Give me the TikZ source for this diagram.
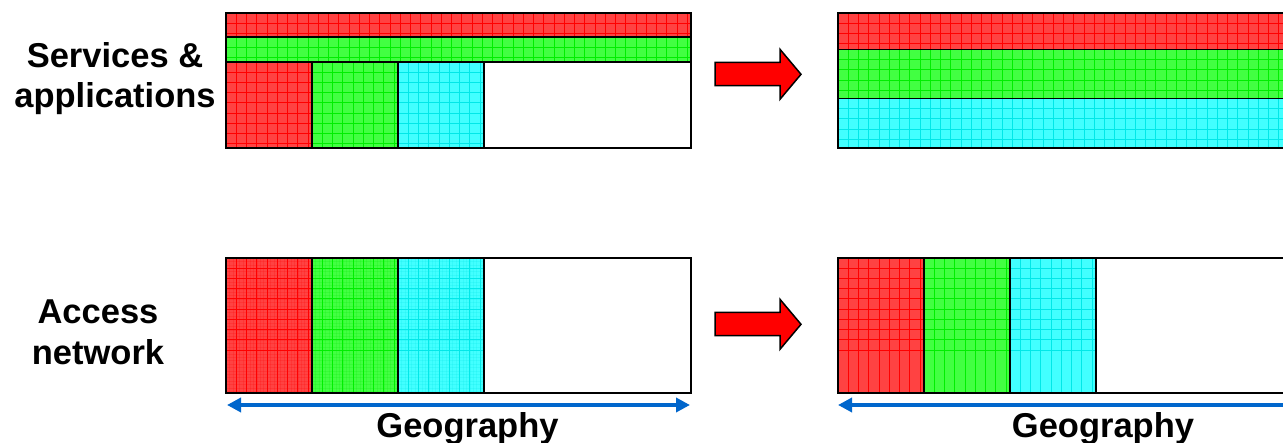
\documentclass[tikz,border=0pt]{standalone}
\usepackage{fontspec}
\setmainfont{Liberation Sans}
\usetikzlibrary{arrows.meta}
\definecolor{rfill}{RGB}{255,66,66}
\definecolor{rline}{RGB}{255,0,0}
\definecolor{gfill}{RGB}{66,255,66}
\definecolor{gline}{RGB}{0,238,0}
\definecolor{cfill}{RGB}{66,255,255}
\definecolor{cline}{RGB}{0,232,232}
\definecolor{geoblue}{RGB}{0,102,204}
\newcommand\gbox[6]{%
  \begin{scope}
    \clip (#1,#2) rectangle (#3,#4);
    \fill[#5] (#1,#2) rectangle (#3,#4);
    \foreach \k in {1,...,46} {\draw[gridline,#6] ({#1+\k*10.25},#2) -- ({#1+\k*10.25},#4);}
    \foreach \k in {1,...,9} {\draw[gridline,#6] (#1,{#2+\k*10.25}) -- (#3,{#2+\k*10.25});}
  \end{scope}}
\newcommand\stipbox[5]{%
  \begin{scope}
    \clip (#1,#2) rectangle (#3,#4);
    \foreach \k in {1,...,30} {\draw[#5,line width=0.5pt,opacity=0.18] ({#1+\k*3.42},#2) -- ({#1+\k*3.42},#4);}
    \foreach \k in {1,...,40} {\draw[#5,line width=0.5pt,opacity=0.18] (#1,{#2+\k*3.42}) -- (#3,{#2+\k*3.42});}
  \end{scope}}
\tikzset{
  gridline/.style={line width=1pt},
  border/.style={draw=black,line width=1.6pt},
  lbl/.style={font=\fontsize{34.5}{40}\selectfont\bfseries,inner sep=0pt,anchor=base},
  bigarrow/.style={fill=red,draw=black,line width=1.5pt,line join=miter},
  geo/.style={draw=geoblue,line width=4pt},
}
\begin{document}
\begin{tikzpicture}[x=1pt,y=-1pt]
\clip (0,0) rectangle (1283,443);
\fill[white] (0,0) rectangle (1283,443);

% ---------- top left ----------
\gbox{226}{13}{691}{37}{rfill}{rline}
\gbox{226}{37}{691}{62}{gfill}{gline}
\gbox{226}{62}{312}{148}{rfill}{rline}
\gbox{312}{62}{398}{148}{gfill}{gline}
\gbox{398}{62}{484}{148}{cfill}{cline}
\draw[border] (226,13) rectangle (691,148);
\draw[border] (226,37) -- (691,37);
\draw[border] (226,62) -- (691,62);
\draw[border] (312,62) -- (312,148);
\draw[border] (398,62) -- (398,148);
\draw[border] (484,62) -- (484,148);

% ---------- top right ----------
\gbox{838}{13}{1295}{49.5}{rfill}{rline}
\gbox{838}{49.5}{1295}{98.5}{gfill}{gline}
\gbox{838}{98.5}{1295}{148}{cfill}{cline}
\draw[border] (838,13) rectangle (1295,148);
\draw[border] (838,49.5) -- (1295,49.5);
\draw[border] (838,98.5) -- (1295,98.5);

% ---------- bottom left ----------
\gbox{226}{258}{312}{393}{rfill}{rline}
\stipbox{226}{258}{312}{393}{rline}
\gbox{312}{258}{398}{393}{gfill}{gline}
\stipbox{312}{258}{398}{393}{gline}
\gbox{398}{258}{484}{393}{cfill}{cline}
\stipbox{398}{258}{484}{393}{cline}
\draw[border] (226,258) rectangle (691,393);
\draw[border] (312,258) -- (312,393);
\draw[border] (398,258) -- (398,393);
\draw[border] (484,258) -- (484,393);

% ---------- bottom right ----------
\gbox{838}{258}{924}{393}{rfill}{rline}
\gbox{924}{258}{1010}{393}{gfill}{gline}
\gbox{1010}{258}{1096}{393}{cfill}{cline}
\draw[border] (838,258) rectangle (1295,393);
\draw[border] (924,258) -- (924,393);
\draw[border] (1010,258) -- (1010,393);
\draw[border] (1096,258) -- (1096,393);

% ---------- big red arrows ----------
\draw[bigarrow] (715,62.3) -- (780,62.3) -- (780,49.3) -- (801,74.3) -- (780,99.3) -- (780,85.7) -- (715,85.7) -- cycle;
\draw[bigarrow] (715,312.3) -- (780,312.3) -- (780,299.3) -- (801,324.3) -- (780,349.3) -- (780,335.7) -- (715,335.7) -- cycle;

% ---------- geography arrows ----------
\coordinate (gl1) at (227,405);
\coordinate (gl2) at (690,405);
\coordinate (gr1) at (838,405);
\coordinate (gr2) at (1300,405);
\draw[geo,{Triangle[length=14pt,width=14pt]}-{Triangle[length=14pt,width=14pt]}] (gl1) -- (gl2);
\draw[geo,{Triangle[length=14pt,width=14pt]}-] (gr1) -- (gr2);

% ---------- labels ----------
\node[lbl] (svc1) at (115,67.5) {Services \&};
\node[lbl] (svc2) at (115,108) {applications};
\node[lbl] (acc1) at (98,324) {Access};
\node[lbl] (acc2) at (98,365) {network};
\node[lbl] (geo1) at (467.5,438) {Geography};
\node[lbl] (geo2) at (1103,438) {Geography};
\end{tikzpicture}
\end{document}
